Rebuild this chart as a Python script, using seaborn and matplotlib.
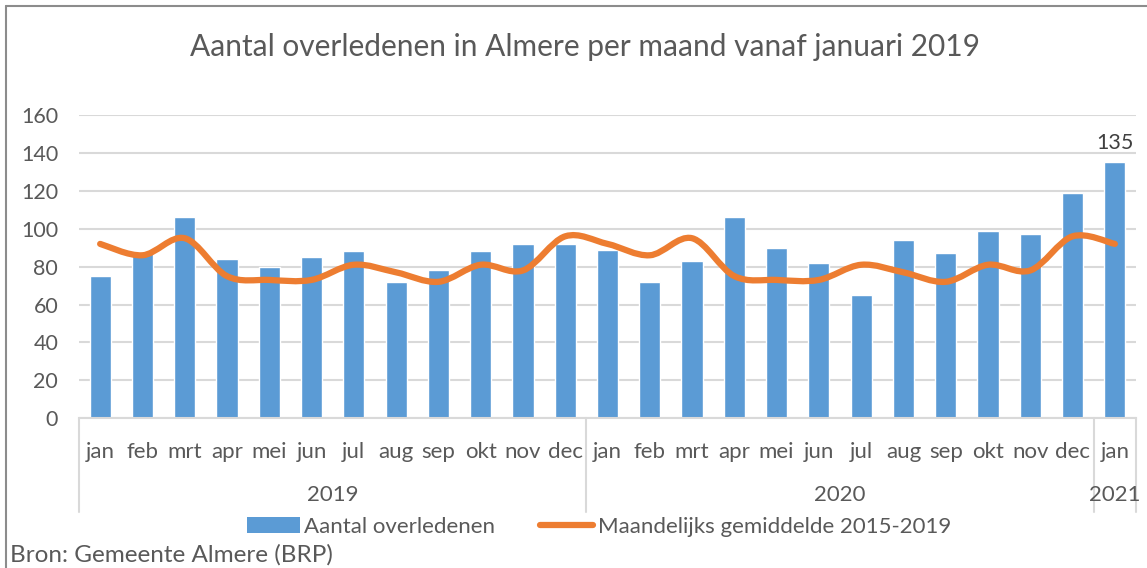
import numpy as np
import pandas as pd
import matplotlib
matplotlib.use("Agg")
import matplotlib.pyplot as plt
import seaborn as sns
from matplotlib.path import Path
from matplotlib.patches import PathPatch, Patch
from matplotlib.lines import Line2D
import matplotlib.transforms as mtransforms

# data
months = ['jan', 'feb', 'mrt', 'apr', 'mei', 'jun', 'jul', 'aug', 'sep', 'okt', 'nov', 'dec',
          'jan', 'feb', 'mrt', 'apr', 'mei', 'jun', 'jul', 'aug', 'sep', 'okt', 'nov', 'dec',
          'jan']
years = ['2019', '2020', '2021']
year_sizes = [12, 12, 1]
deaths = [75, 87, 106, 84, 80, 85, 88, 72, 78, 88, 92, 92,
          89, 72, 83, 106, 90, 82, 65, 94, 87, 99, 97, 119,
          135]
avg_2015_2019 = [92, 86, 95, 75, 73, 73, 81, 77, 72, 81, 78, 96,
                 92, 86, 95, 75, 73, 73, 81, 77, 72, 81, 78, 96,
                 92]

BLUE = '#5B9BD5'
ORANGE = '#ED7D31'
TEXT = '#595959'
GRID = '#D9D9D9'

sns.set_style('white')
plt.rcParams['font.family'] = ['Lato', 'DejaVu Sans']

df = pd.DataFrame({'pos': range(len(deaths)), 'deaths': deaths, 'avg': avg_2015_2019})

fig = plt.figure(figsize=(11.47, 5.68), dpi=100)
ax = fig.add_axes([79 / 1147, 1 - 418.3 / 568, (1136 - 79) / 1147, (418.3 - 115) / 568])

sns.barplot(data=df, x='pos', y='deaths', color=BLUE, saturation=1, width=0.5, ax=ax, zorder=2)

# smoothed line (Excel-style) drawn as bezier path through the data points
xs = df['pos'].to_numpy(dtype=float)
ys = df['avg'].to_numpy(dtype=float)
verts = [(xs[0], ys[0])]
codes = [Path.MOVETO]
n = len(xs)
for i in range(n - 1):
    p0 = np.array([xs[max(i - 1, 0)], ys[max(i - 1, 0)]])
    p1 = np.array([xs[i], ys[i]])
    p2 = np.array([xs[i + 1], ys[i + 1]])
    p3 = np.array([xs[min(i + 2, n - 1)], ys[min(i + 2, n - 1)]])
    c1 = p1 + (p2 - p0) / 6
    c2 = p2 - (p3 - p1) / 6
    verts += [tuple(c1), tuple(c2), tuple(p2)]
    codes += [Path.CURVE4] * 3
ax.add_patch(PathPatch(Path(verts, codes), facecolor='none', edgecolor=ORANGE,
                       lw=4.5, capstyle='round', joinstyle='round', zorder=3))

ax.set_ylim(0, 160)
ax.set_xlim(-0.5, len(deaths) - 0.5)
ax.set_yticks(range(0, 161, 20))
ax.yaxis.grid(True, color=GRID, lw=1.5, zorder=0)
ax.set_axisbelow(True)
for s in ['left', 'top', 'right']:
    ax.spines[s].set_visible(False)
ax.spines['bottom'].set_color(GRID)
ax.spines['bottom'].set_linewidth(1.5)
ax.set_xlabel('')
ax.set_ylabel('')
ax.set_xticks(range(len(months)))
ax.set_xticklabels(months)
ax.tick_params(axis='x', length=0, pad=17, labelsize=16, labelcolor=TEXT)
ax.tick_params(axis='y', length=0, pad=15, labelsize=15.5, labelcolor=TEXT)

# value label on last bar
ax.text(len(deaths) - 1, deaths[-1] + 5, str(deaths[-1]), ha='center', va='bottom',
        fontsize=15.5, color='#404040')

# multi-level category axis: year labels and separators
trans = mtransforms.blended_transform_factory(ax.transData, ax.transAxes)
start = 0
bounds = [-0.5]
for yr, size in zip(years, year_sizes):
    mid = start + (size - 1) / 2
    ax.text(mid, -0.253, yr, transform=trans, ha='center', va='center',
            fontsize=16, color=TEXT)
    start += size
    bounds.append(start - 0.5)
for b in bounds:
    ax.plot([b, b], [0, -0.309], transform=trans, color=GRID, lw=1.5, clip_on=False)

fig.text(0.51, 1 - 47 / 568, 'Aantal overledenen in Almere per maand vanaf januari 2019',
         ha='center', va='center', fontsize=21.5, color=TEXT)

handles = [Patch(facecolor=BLUE, edgecolor='none'),
           Line2D([0], [0], color=ORANGE, lw=4.5, solid_capstyle='round')]
fig.legend(handles, ['Aantal overledenen', 'Maandelijks gemiddelde 2015-2019'],
           loc='center', bbox_to_anchor=(0.522, 1 - 527 / 568), ncol=2, frameon=False,
           fontsize=16, labelcolor=TEXT, handlelength=2.4, handletextpad=0.2,
           columnspacing=2.0)

fig.text(10 / 1147, 1 - 555 / 568, 'Bron: Gemeente Almere (BRP)', ha='left', va='center',
         fontsize=17.5, color=TEXT)

# outer chart frame (cut off at right and bottom in the reference)
fig.add_artist(Line2D([6 / 1147, 1], [1 - 6 / 568, 1 - 6 / 568], color='#8C8C8C', lw=1.5))
fig.add_artist(Line2D([6 / 1147, 6 / 1147], [0, 1 - 6 / 568], color='#8C8C8C', lw=1.5))

fig.savefig('out.png', dpi=100)
